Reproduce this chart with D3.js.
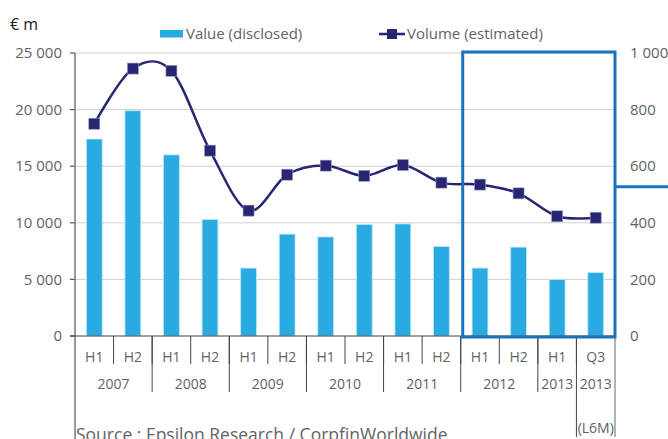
<!DOCTYPE html>
<html>
<head>
<meta charset="UTF-8">
<script src="https://d3js.org/d3.v7.min.js"></script>
<style>
  body { margin: 0; background: #fff; }
  text { font-family: "Open Sans", Lato, sans-serif; fill: #626262; }
</style>
</head>
<body>
<svg width="668" height="439"></svg>
<script>
// periods and year groups
var periods = ["H1","H2","H1","H2","H1","H2","H1","H2","H1","H2","H1","H2","H1","Q3"];
var yearLabels = ["2007","2008","2009","2010","2011","2012","2013","2013"];
var yearSpans = [2,2,2,2,2,2,1,1];
// Value (disclosed), € m
var valueDisclosed = [17400,19900,16000,10300,6000,9000,8750,9850,9900,7900,6000,7850,5000,5600];
// Volume (estimated), number of deals
var volumeEstimated = [750,945,937,655,443,570,602,566,604,542,535,504,423,418];
var leftTicks = [0,5000,10000,15000,20000,25000];
var rightTicks = [0,200,400,600,800,1000];

var svg = d3.select("svg");
var plotLeft = 75, plotRight = 615, plotTop = 53, plotBottom = 336;

var keys = periods.map(function(p, i) { return i; });
var x = d3.scaleBand().domain(keys).range([plotLeft, plotRight]);
var y = d3.scaleLinear().domain([0, 25000]).range([plotBottom, plotTop]);
var yR = d3.scaleLinear().domain([0, 1000]).range([plotBottom, plotTop]);
var fmt = function(v) { return d3.format(",")(v).replace(/,/g, " "); };

// gridlines
svg.selectAll(".grid").data(leftTicks.slice(1)).enter().append("line")
  .attr("x1", plotLeft).attr("x2", plotRight)
  .attr("y1", d => y(d)).attr("y2", d => y(d))
  .attr("stroke", "#d0d0d0").attr("stroke-width", 1);

// left axis labels + ticks
svg.selectAll(".ly").data(leftTicks).enter().append("text")
  .attr("x", 62).attr("y", d => y(d)).attr("dy", "0.35em")
  .attr("text-anchor", "end").attr("font-size", 15).text(fmt);
svg.selectAll(".lt").data(leftTicks).enter().append("line")
  .attr("x1", 70).attr("x2", plotLeft).attr("y1", d => y(d)).attr("y2", d => y(d))
  .attr("stroke", "#555").attr("stroke-width", 1.2);

// right axis labels
svg.selectAll(".ry").data(rightTicks).enter().append("text")
  .attr("x", 630).attr("y", d => yR(d)).attr("dy", "0.35em")
  .attr("font-size", 15).text(fmt);

// bars
var bw = x.bandwidth() * 0.41;
svg.selectAll(".bar").data(valueDisclosed).enter().append("rect")
  .attr("x", (d, i) => x(i) + x.bandwidth() / 2 - bw / 2)
  .attr("y", d => y(d))
  .attr("width", bw).attr("height", d => plotBottom - y(d))
  .attr("fill", "#29abe2").attr("stroke", "#bfe6f7").attr("stroke-width", 0.8);

// left axis line (runs down past the category labels)
svg.append("line").attr("x1", plotLeft).attr("x2", plotLeft).attr("y1", plotTop).attr("y2", 439)
  .attr("stroke", "#777").attr("stroke-width", 1.5);
// category axis line
svg.append("line").attr("x1", 70).attr("x2", plotRight).attr("y1", plotBottom).attr("y2", plotBottom)
  .attr("stroke", "#444").attr("stroke-width", 1.2);

// period dividers
keys.forEach(function(i) {
  if (i === 0) return;
  svg.append("line").attr("x1", x(i)).attr("x2", x(i))
    .attr("y1", plotBottom).attr("y2", 364).attr("stroke", "#444").attr("stroke-width", 1);
});
svg.append("line").attr("x1", plotRight).attr("x2", plotRight)
  .attr("y1", plotBottom).attr("y2", 437).attr("stroke", "#666").attr("stroke-width", 1);

// period labels
svg.selectAll(".pl").data(periods).enter().append("text")
  .attr("x", (d, i) => x(i) + x.bandwidth() / 2).attr("y", 357).attr("dy", "0.35em")
  .attr("text-anchor", "middle").attr("font-size", 14).text(d => d);

// year group labels and dividers
var start = 0;
yearLabels.forEach(function(lab, j) {
  var s = start, e = start + yearSpans[j];
  var x0 = x(s), x1 = (e >= keys.length) ? plotRight : x(e);
  svg.append("text").attr("x", (x0 + x1) / 2).attr("y", 384).attr("dy", "0.35em")
    .attr("text-anchor", "middle").attr("font-size", 14).text(lab);
  if (e < keys.length) {
    svg.append("line").attr("x1", x1).attr("x2", x1)
      .attr("y1", plotBottom).attr("y2", j === 6 ? 437 : 392)
      .attr("stroke", "#444").attr("stroke-width", 1);
  }
  start = e;
});
svg.append("text").attr("x", (x(13) + plotRight) / 2).attr("y", 428).attr("dy", "0.35em")
  .attr("text-anchor", "middle").attr("font-size", 14).text("(L6M)");

// volume line
var line = d3.line()
  .x((d, i) => x(i) + x.bandwidth() / 2)
  .y(d => yR(d))
  .curve(d3.curveCardinal.tension(0));
svg.append("path").datum(volumeEstimated).attr("d", line)
  .attr("fill", "none").attr("stroke", "#262673").attr("stroke-width", 2.5);
svg.selectAll(".mk").data(volumeEstimated).enter().append("rect")
  .attr("x", (d, i) => x(i) + x.bandwidth() / 2 - 5.5).attr("y", d => yR(d) - 5.5)
  .attr("width", 11).attr("height", 11)
  .attr("fill", "#262673").attr("stroke", "#9a9ac0").attr("stroke-width", 0.6);

// highlight box for 2012-2013
svg.append("rect").attr("x", x(10) + 2).attr("y", plotTop - 1)
  .attr("width", plotRight - x(10) - 2).attr("height", plotBottom - plotTop + 2)
  .attr("fill", "none").attr("stroke", "#1a73bb").attr("stroke-width", 3);
svg.append("line").attr("x1", plotRight).attr("x2", 668)
  .attr("y1", yR(527)).attr("y2", yR(527))
  .attr("stroke", "#1a73bb").attr("stroke-width", 3);

// unit
svg.append("text").attr("x", 10).attr("y", 24).attr("dy", "0.35em")
  .attr("font-size", 16).style("fill", "#222").text("€ m");

// legend
svg.append("rect").attr("x", 160).attr("y", 30).attr("width", 23).attr("height", 7.5).attr("fill", "#29abe2");
svg.append("text").attr("x", 186).attr("y", 34).attr("dy", "0.35em").attr("font-size", 15).text("Value (disclosed)");
svg.append("line").attr("x1", 379).attr("x2", 405).attr("y1", 34).attr("y2", 34)
  .attr("stroke", "#262673").attr("stroke-width", 2.5);
svg.append("rect").attr("x", 387).attr("y", 29).attr("width", 10).attr("height", 10).attr("fill", "#262673");
svg.append("text").attr("x", 407).attr("y", 34).attr("dy", "0.35em").attr("font-size", 15).text("Volume (estimated)");

// source (cut off at the bottom edge, as in the original)
svg.append("text").attr("x", 76).attr("y", 441).attr("font-size", 17.5)
  .text("Source : Epsilon Research / CorpfinWorldwide");
</script>
</body>
</html>
